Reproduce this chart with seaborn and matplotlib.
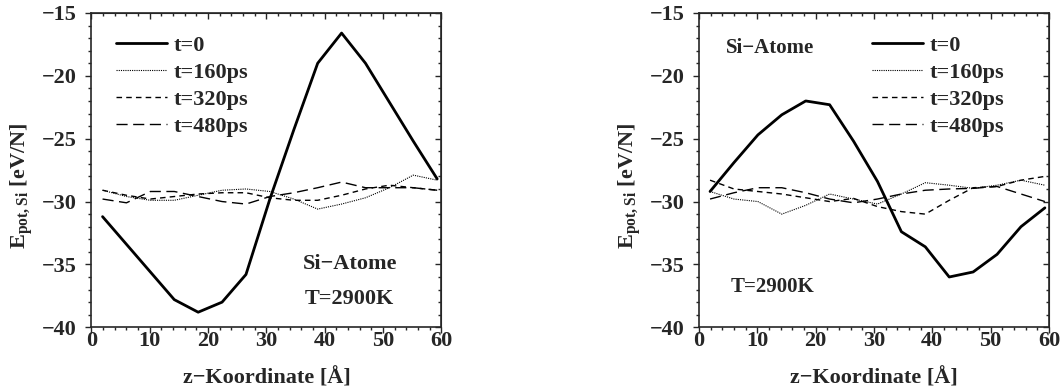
import pandas as pd
import matplotlib
matplotlib.use("Agg")
import matplotlib.pyplot as plt
import seaborn as sns
from matplotlib.ticker import MultipleLocator

# z-Koordinate der Messpunkte
z = [1.9, 6.0, 10.1, 14.2, 18.3, 22.4, 26.5, 30.6, 34.7, 38.8, 42.9, 47.0, 51.1, 55.2, 59.3]
series = ["t=0", "t=160ps", "t=320ps", "t=480ps"]

# linkes Bild
left_t0 = [-31.2, -33.4, -35.6, -37.8, -38.8, -38.0, -35.8, -29.8, -24.3, -19.0, -16.6, -19.0, -22.1, -25.2, -28.2]
left_t160 = [-29.1, -29.6, -29.9, -29.9, -29.5, -29.1, -29.0, -29.2, -29.8, -30.6, -30.2, -29.7, -28.9, -27.9, -28.3]
left_t320 = [-29.1, -29.5, -29.8, -29.6, -29.4, -29.3, -29.3, -29.7, -29.9, -29.9, -29.5, -29.0, -28.7, -28.9, -29.1]
left_t480 = [-29.8, -30.1, -29.2, -29.2, -29.6, -30.0, -30.2, -29.6, -29.3, -28.9, -28.45, -28.9, -28.9, -28.9, -29.1]

# rechtes Bild
right_t0 = [-29.2, -26.9, -24.7, -23.1, -22.0, -22.3, -25.2, -28.4, -32.4, -33.6, -36.0, -35.6, -34.2, -32.0, -30.5]
right_t160 = [-29.2, -29.8, -30.0, -31.0, -30.3, -29.4, -29.8, -30.2, -29.4, -28.5, -28.7, -28.95, -28.7, -28.3, -28.7]
right_t320 = [-28.3, -29.0, -29.2, -29.4, -29.7, -30.0, -29.75, -30.4, -30.8, -31.0, -29.9, -28.9, -28.8, -28.3, -28.0]
right_t480 = [-29.8, -29.3, -28.9, -28.9, -29.3, -29.8, -30.1, -29.8, -29.4, -29.1, -29.0, -28.95, -28.8, -29.4, -30.0]

styles = {
    "t=0": dict(linestyle="-", linewidth=2.0),
    "t=160ps": dict(linestyle=(0, (1, 1)), linewidth=0.8),
    "t=320ps": dict(linestyle=(0, (4, 3)), linewidth=1.0),
    "t=480ps": dict(linestyle=(0, (8, 4)), linewidth=1.0),
}

sns.set_style("ticks")
plt.rcParams["font.family"] = ["Liberation Serif", "DejaVu Serif"]
plt.rcParams["font.weight"] = "bold"
plt.rcParams["axes.labelweight"] = "bold"
plt.rcParams["mathtext.fontset"] = "custom"
plt.rcParams["mathtext.rm"] = "Liberation Serif:bold"
plt.rcParams["mathtext.bf"] = "Liberation Serif:bold"

FS = 16


def draw(ax, data):
    for name, vals in zip(series, data):
        df = pd.DataFrame({"z": z, "E": vals})
        sns.lineplot(data=df, x="z", y="E", ax=ax, color="black", label=name, **styles[name])
    ax.set_xlim(0, 60)
    ax.set_ylim(-40, -15)
    ax.xaxis.set_major_locator(MultipleLocator(10))
    ax.xaxis.set_minor_locator(MultipleLocator(2))
    ax.yaxis.set_major_locator(MultipleLocator(5))
    ax.yaxis.set_minor_locator(MultipleLocator(1))
    ax.tick_params(which="both", direction="out", labelsize=FS, width=1)
    ax.tick_params(which="major", length=4.5)
    ax.tick_params(which="minor", length=2.5)
    ax.tick_params(axis="x", pad=-1.5)
    ax.tick_params(axis="y", pad=6)
    for lab in ax.get_xticklabels() + ax.get_yticklabels():
        lab.set_fontweight("bold")

    # innen liegende Ticks oben und rechts
    top = ax.secondary_xaxis("top")
    top.xaxis.set_major_locator(MultipleLocator(10))
    top.xaxis.set_minor_locator(MultipleLocator(2))
    top.tick_params(which="both", direction="in", labeltop=False, width=1)
    top.tick_params(which="major", length=4.5)
    top.tick_params(which="minor", length=2.5)
    right = ax.secondary_yaxis("right")
    right.yaxis.set_major_locator(MultipleLocator(5))
    right.yaxis.set_minor_locator(MultipleLocator(1))
    right.tick_params(which="both", direction="in", labelright=False, width=1)
    right.tick_params(which="major", length=4.5)
    right.tick_params(which="minor", length=2.5)

    for sp in ax.spines.values():
        sp.set_linewidth(1.2)
    ax.set_xlabel("z\u2212Koordinate [\u00c5]", fontsize=FS, fontweight="bold", labelpad=12)
    ax.set_ylabel(r"E$_{\mathbf{pot,Si}}$ [eV/N]", fontsize=FS, fontweight="bold")
    ax.yaxis.set_label_coords(-0.158, 0.45)


fig = plt.figure(figsize=(10.6, 3.9), dpi=100)
ax1 = fig.add_axes([0.0863, 0.1608, 0.330, 0.806])
ax2 = fig.add_axes([0.6594, 0.1608, 0.3302, 0.806])

draw(ax1, [left_t0, left_t160, left_t320, left_t480])
draw(ax2, [right_t0, right_t160, right_t320, right_t480])

leg_kw = dict(loc="upper left", frameon=False, handlelength=2.3, handletextpad=0.3,
              labelspacing=0.3, borderpad=0, borderaxespad=0,
              prop={"size": FS, "weight": "bold"})
ax1.legend(bbox_to_anchor=(0.07, 0.93), **leg_kw)
ax2.legend(bbox_to_anchor=(0.494, 0.93), **leg_kw)

ax1.text(0.604, 0.2, "Si\u2212Atome", transform=ax1.transAxes, fontsize=FS, fontweight="bold", va="center")
ax1.text(0.61, 0.09, "T=2900K", transform=ax1.transAxes, fontsize=FS, fontweight="bold", va="center")
ax2.text(0.076, 0.89, "Si\u2212Atome", transform=ax2.transAxes, fontsize=15, fontweight="bold", va="center")
ax2.text(0.09, 0.127, "T=2900K", transform=ax2.transAxes, fontsize=15, fontweight="bold", va="center")

fig.savefig("out.png", dpi=100)
plt.close(fig)
